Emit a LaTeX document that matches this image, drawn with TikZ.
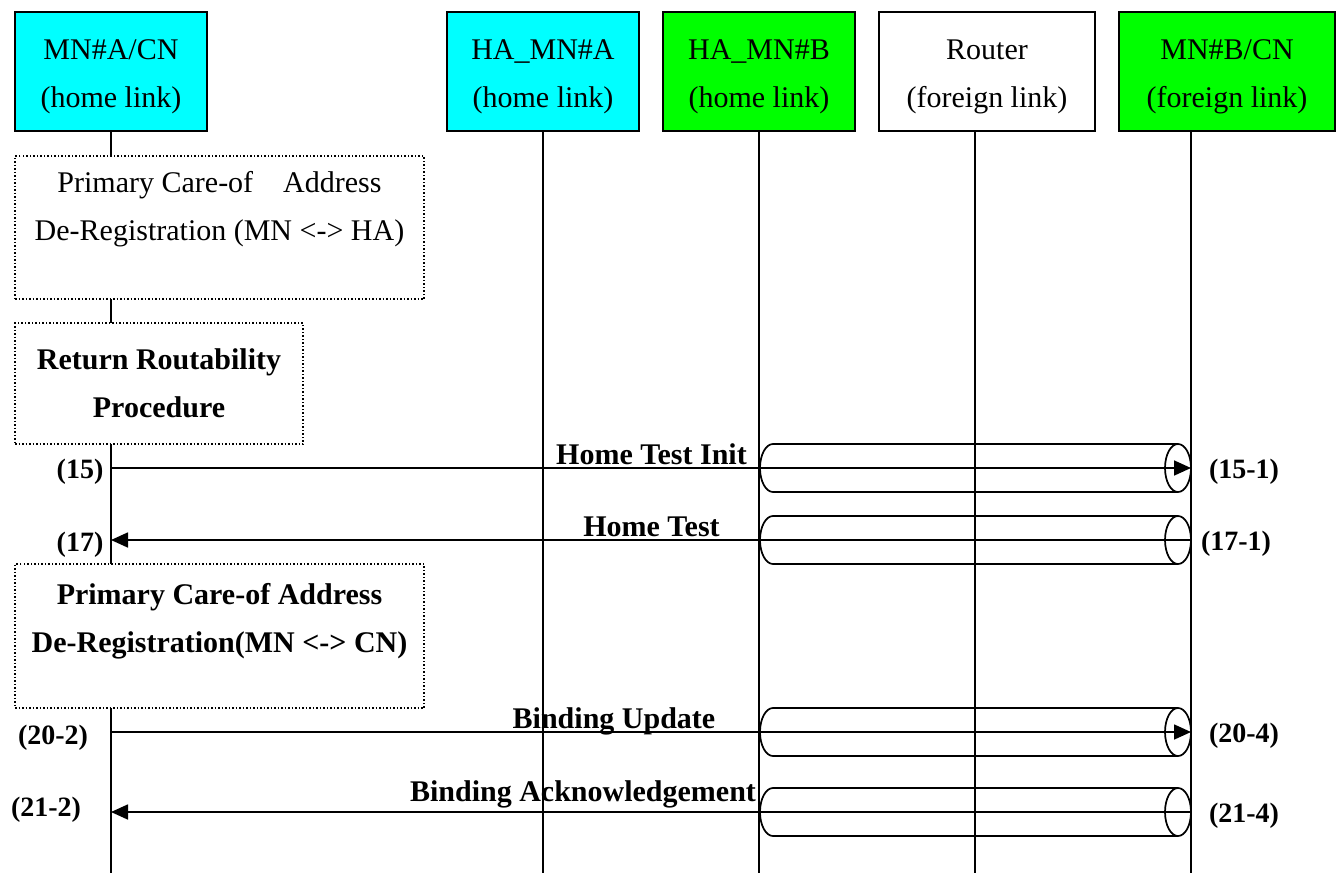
\documentclass[tikz,border=0pt]{standalone}
\usepackage{fontspec}
\setmainfont{Liberation Serif}
\usepackage{tikz}
\usetikzlibrary{arrows.meta, positioning}
\definecolor{homecyan}{RGB}{0,255,255}
\definecolor{homegreen}{RGB}{0,255,0}
\newcommand{\hdrstrut}{\rule{0pt}{30pt}}

\begin{document}
\begin{tikzpicture}[
    x=1pt, y=-1pt,
    entity/.style={rectangle, draw, line width=1.8pt, minimum width=192pt, minimum height=119pt, align=center, font=\fontsize{30}{48}\selectfont},
    lifeline/.style={line width=1.7pt},
    procbox/.style={rectangle, draw, dotted, line width=1.5pt, fill=white, align=center, font=\bfseries\fontsize{30}{48}\selectfont},
    proctext/.style={align=center, inner sep=0pt, font=\fontsize{30}{48}\selectfont},
    msg/.style={line width=1.7pt, -{Triangle[length=17pt, width=15pt]}},
    msglabel/.style={anchor=base, inner sep=0pt, font=\bfseries\fontsize{30}{36}\selectfont},
    stepno/.style={inner sep=0pt, font=\bfseries\fontsize{28}{34}\selectfont},
    tunnel/.style={line width=1.7pt}
]
    \useasboundingbox (0,0) rectangle (1341,873);

    % Entities
    \node[entity, fill=homecyan] (mna) at (111,71.5) {\hdrstrut MN\#A/CN\\(home link)};
    \node[entity, fill=homecyan] (hamna) at (543,71.5) {\hdrstrut HA\_MN\#A\\(home link)};
    \node[entity, fill=homegreen] (hamnb) at (759,71.5) {\hdrstrut HA\_MN\#B\\(home link)};
    \node[entity, minimum width=216pt] (router) at (987,71.5) {\hdrstrut Router\\(foreign link)};
    \node[entity, fill=homegreen, minimum width=216pt] (mnb) at (1227,71.5) {\hdrstrut MN\#B/CN\\(foreign link)};

    % Lifelines
    \coordinate (mnaend) at (111,873);
    \coordinate (hamnaend) at (543,873);
    \coordinate (hamnbend) at (759,873);
    \coordinate (routerend) at (975,873);
    \coordinate (mnbend) at (1191,873);
    \draw[lifeline] (mna.south -| mnaend) -- (mnaend);
    \draw[lifeline] (hamna.south -| hamnaend) -- (hamnaend);
    \draw[lifeline] (hamnb.south -| hamnbend) -- (hamnbend);
    \draw[lifeline] (router.south -| routerend) -- (routerend);
    \draw[lifeline] (mnb.south -| mnbend) -- (mnbend);

    % Procedures on MN#A
    \node[procbox, minimum width=409pt, minimum height=143pt] (pcoaha) at (219.5,227.5) {};
    \node[proctext, below=16pt of pcoaha.north] (pcoahatext) {Primary Care-of\quad Address\\De-Registration (MN <-> HA)};
    \node[procbox, minimum width=288pt, minimum height=121pt] (rrp) at (159,383.5) {Return Routability\\Procedure};
    \node[procbox, minimum width=409pt, minimum height=144pt] (pcoacn) at (219.5,636) {};
    \node[proctext, font=\bfseries\fontsize{30}{48}\selectfont, below=20pt of pcoacn.north] (pcoacntext) {Primary Care-of Address\\De-Registration(MN <-> CN)};

    % Tunnels between HA_MN#B and MN#B/CN
    \draw[tunnel] (1178,444) -- (773,444) arc[start angle=90, end angle=270, x radius=13pt, y radius=24pt] -- (1178,492) (1178,468) ellipse [x radius=13pt, y radius=24pt];
    \draw[tunnel] (1178,516) -- (773,516) arc[start angle=90, end angle=270, x radius=13pt, y radius=24pt] -- (1178,564) (1178,540) ellipse [x radius=13pt, y radius=24pt];
    \draw[tunnel] (1178,708) -- (773,708) arc[start angle=90, end angle=270, x radius=13pt, y radius=24pt] -- (1178,756) (1178,732) ellipse [x radius=13pt, y radius=24pt];
    \draw[tunnel] (1178,788) -- (773,788) arc[start angle=90, end angle=270, x radius=13pt, y radius=24pt] -- (1178,836) (1178,812) ellipse [x radius=13pt, y radius=24pt];

    % Messages
    \coordinate (hti_a) at (111,468);
    \coordinate (hti_b) at (1191,468);
    \coordinate (ht_a) at (111,540);
    \coordinate (ht_b) at (1191,540);
    \coordinate (bu_a) at (111,732);
    \coordinate (bu_b) at (1191,732);
    \coordinate (ba_a) at (111,812);
    \coordinate (ba_b) at (1191,812);

    \draw[msg] (hti_a) -- (hti_b);
    \draw[msg] (ht_b) -- (ht_a);
    \draw[msg] (bu_a) -- (bu_b);
    \draw[msg] (ba_b) -- (ba_a);

    \node[msglabel] (htilabel) at (651.5,464) {Home Test Init};
    \node[msglabel] (htlabel) at (651.5,536) {Home Test};
    \node[msglabel] (bulabel) at (614,728) {Binding Update};
    \node[msglabel] (balabel) at (583,801) {Binding Acknowledgement};

    % Step numbers
    \node[stepno] (s15) at (80,472) {(15)};
    \node[stepno] (s151) at (1244,472) {(15-1)};
    \node[stepno] (s17) at (80,545) {(17)};
    \node[stepno] (s171) at (1236,544) {(17-1)};
    \node[stepno] (s202) at (53,738) {(20-2)};
    \node[stepno] (s204) at (1244,736) {(20-4)};
    \node[stepno] (s212) at (46,810) {(21-2)};
    \node[stepno] (s214) at (1244,816) {(21-4)};
\end{tikzpicture}
\end{document}
